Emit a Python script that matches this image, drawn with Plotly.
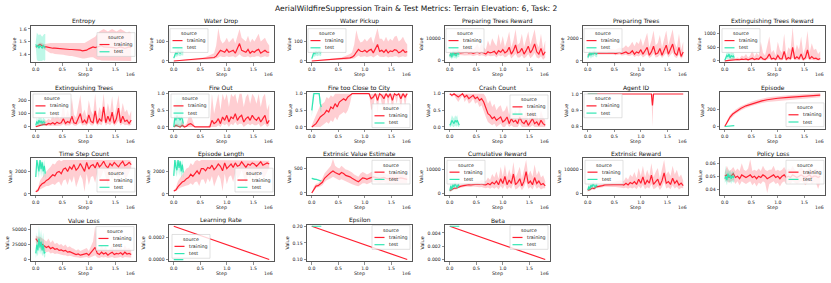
import plotly.graph_objects as go

FIG_W, FIG_H = 831, 283
FONT = "DejaVu Sans"
RED = "#ff1f30"
TEAL = "#33e6b3"
RED_BAND = "rgba(255,31,48,0.22)"
TEAL_BAND = "rgba(51,230,179,0.32)"

# ---------------- data (steps in units of 1e6) ----------------
STEPS = [0.0, 0.04, 0.08, 0.12, 0.16, 0.2, 0.24, 0.28, 0.32, 0.36,
         0.4, 0.44, 0.48, 0.52, 0.56, 0.6, 0.64, 0.68, 0.72, 0.76,
         0.8, 0.84, 0.88, 0.92, 0.96, 1.0, 1.04, 1.08, 1.12, 1.16,
         1.2, 1.24, 1.28, 1.32, 1.36, 1.4, 1.44, 1.48, 1.52, 1.56,
         1.6, 1.64, 1.68, 1.72, 1.76, 1.8]
TEST_STEPS = [0.0, 0.02, 0.04, 0.06, 0.08, 0.1, 0.12, 0.14, 0.16, 0.18]

ENTROPY_MEAN = [1.46, 1.47, 1.48, 1.47, 1.46, 1.46, 1.455, 1.45, 1.45, 1.45,
                1.448, 1.445, 1.445, 1.445, 1.44, 1.44, 1.44, 1.44, 1.44, 1.438,
                1.435, 1.435, 1.43, 1.43, 1.435, 1.445, 1.455, 1.46, 1.455, 1.46,
                1.47, 1.47, 1.46, 1.46, 1.455, 1.46, 1.46, 1.455, 1.45, 1.455,
                1.46, 1.455, 1.45, 1.455, 1.46, 1.455]
ENTROPY_LO = [1.45, 1.455, 1.465, 1.455, 1.44, 1.43, 1.42, 1.41, 1.41, 1.405,
              1.40, 1.40, 1.40, 1.40, 1.395, 1.39, 1.39, 1.39, 1.385, 1.38,
              1.38, 1.375, 1.37, 1.37, 1.37, 1.375, 1.38, 1.38, 1.37, 1.36,
              1.36, 1.355, 1.355, 1.35, 1.35, 1.35, 1.35, 1.35, 1.35, 1.35,
              1.35, 1.35, 1.35, 1.35, 1.35, 1.35]
ENTROPY_HI = [1.47, 1.485, 1.495, 1.49, 1.48, 1.485, 1.49, 1.49, 1.49, 1.49,
              1.49, 1.495, 1.49, 1.49, 1.49, 1.49, 1.49, 1.495, 1.495, 1.49,
              1.49, 1.495, 1.49, 1.49, 1.50, 1.51, 1.52, 1.53, 1.54, 1.56,
              1.58, 1.59, 1.60, 1.59, 1.58, 1.59, 1.60, 1.59, 1.58, 1.59,
              1.60, 1.59, 1.58, 1.57, 1.58, 1.57]
ENTROPY_TEST = [1.48, 1.46, 1.47, 1.45, 1.47, 1.46, 1.45, 1.47, 1.46, 1.45]
ENTROPY_TEST_LO = [1.46, 1.36, 1.35, 1.35, 1.35, 1.35, 1.35, 1.36, 1.35, 1.36]
ENTROPY_TEST_HI = [1.50, 1.57, 1.56, 1.55, 1.56, 1.55, 1.54, 1.55, 1.56, 1.56]

WATER_DROP_MEAN = [0, 1, 2, 2, 3, 3, 4, 5, 5, 6,
                   6, 7, 8, 9, 10, 11, 12, 14, 15, 18,
                   25, 40, 55, 50, 45, 60, 45, 50, 55, 40,
                   65, 90, 55, 50, 45, 60, 40, 50, 45, 55,
                   60, 40, 50, 55, 45, 45]
WATER_DROP_LO = [0, 0, 1, 1, 2, 2, 2, 3, 3, 3,
                 4, 4, 5, 5, 6, 6, 7, 8, 9, 10,
                 12, 18, 25, 20, 20, 25, 20, 22, 25, 18,
                 25, 35, 25, 20, 20, 25, 18, 22, 20, 25,
                 25, 18, 22, 25, 20, 25]
WATER_DROP_HI = [1, 2, 3, 4, 5, 5, 6, 7, 8, 9,
                 10, 12, 14, 16, 18, 20, 25, 30, 35, 40,
                 80, 170, 110, 90, 100, 120, 95, 110, 120, 90,
                 130, 165, 120, 110, 100, 130, 95, 115, 100, 120,
                 140, 100, 110, 120, 95, 80]
WATER_DROP_TEST = [15, 30, 45, 35, 50, 45, 40, 50, 45, 50]
WATER_DROP_TEST_LO = [10, 18, 25, 20, 30, 28, 25, 30, 28, 30]
WATER_DROP_TEST_HI = [20, 45, 60, 55, 70, 62, 60, 70, 65, 70]

WATER_PICKUP_MEAN = [0, 1, 1, 2, 3, 4, 4, 5, 6, 6,
                     7, 7, 8, 9, 10, 12, 13, 14, 16, 20,
                     28, 45, 60, 50, 48, 55, 45, 55, 60, 42,
                     60, 85, 50, 55, 45, 58, 42, 52, 48, 58,
                     55, 42, 48, 58, 45, 48]
WATER_PICKUP_LO = [0, 0, 0, 1, 2, 2, 2, 3, 3, 3,
                   4, 4, 5, 5, 6, 7, 7, 8, 9, 11,
                   13, 20, 28, 20, 22, 24, 20, 24, 26, 18,
                   24, 32, 22, 22, 20, 24, 18, 22, 20, 25,
                   24, 18, 20, 25, 20, 25]
WATER_PICKUP_HI = [1, 2, 3, 4, 5, 6, 7, 8, 8, 9,
                   10, 12, 14, 16, 18, 22, 26, 30, 36, 45,
                   85, 160, 115, 95, 100, 115, 100, 115, 125, 90,
                   125, 170, 115, 115, 100, 125, 100, 115, 105, 125,
                   130, 100, 110, 125, 100, 85]
WATER_PICKUP_TEST = [12, 30, 45, 38, 50, 42, 45, 50, 42, 48]
WATER_PICKUP_TEST_LO = [8, 18, 25, 22, 30, 25, 28, 30, 25, 30]
WATER_PICKUP_TEST_HI = [18, 45, 60, 55, 68, 60, 62, 68, 60, 65]

PREP_REWARD_MEAN = [2500, 3000, 3500, 3200, 3800, 3500, 3600, 3400, 3800, 3500,
                    3700, 3300, 3600, 3900, 3400, 3800, 3500, 3000, 4000, 3500,
                    3800, 4200, 3000, 4500, 3800, 5000, 3500, 4200, 6000, 3000,
                    4500, 7000, 3500, 4000, 5500, 3000, 4500, 6500, 3500, 5000,
                    7500, 4000, 3000, 5500, 2500, 4000]
PREP_REWARD_LO = [1500, 2000, 2500, 2200, 2600, 2500, 2500, 2400, 2600, 2400,
                  2500, 2200, 2400, 2600, 2200, 2500, 2300, 1800, 2500, 2000,
                  2200, 2400, 1500, 2500, 2000, 2500, 1500, 2000, 3000, 1000,
                  2000, 3000, 1500, 1500, 2500, 1000, 1800, 3000, 1200, 2000,
                  3500, 1500, 1000, 2000, 500, 1500]
PREP_REWARD_HI = [3500, 4000, 4500, 4500, 5000, 5000, 5500, 5000, 6000, 5500,
                  6500, 5000, 6000, 7500, 5500, 8000, 6000, 5000, 9000, 6500,
                  10000, 8000, 6500, 12000, 7000, 11000, 6000, 9000, 13000, 6000,
                  9000, 14000, 7000, 8000, 12000, 6000, 10000, 13000, 7000, 11000,
                  14000, 8000, 6000, 12000, 5000, 9000]
PREP_REWARD_TEST = [2000, 3500, 1500, 4000, 2500, 3000, 2000, 3500, 3000, 3200]
PREP_REWARD_TEST_LO = [1000, 1500, 500, 2000, 1000, 1500, 800, 1500, 1500, 1800]
PREP_REWARD_TEST_HI = [3000, 5500, 3000, 6000, 4500, 5000, 4000, 5500, 4500, 4500]

PREP_TREES_MEAN = [500, 600, 650, 700, 650, 700, 680, 720, 700, 680,
                   700, 720, 700, 650, 700, 750, 650, 700, 800, 650,
                   700, 900, 600, 800, 700, 1000, 600, 900, 1200, 500,
                   800, 1300, 600, 700, 1100, 500, 900, 1400, 600, 1000,
                   1500, 700, 500, 1200, 400, 800]
PREP_TREES_LO = [400, 500, 550, 600, 550, 580, 560, 600, 580, 560,
                 580, 600, 570, 500, 550, 580, 480, 500, 550, 450,
                 450, 550, 350, 450, 400, 550, 300, 450, 600, 250,
                 400, 650, 300, 350, 550, 250, 450, 700, 300, 500,
                 750, 350, 250, 600, 200, 400]
PREP_TREES_HI = [600, 700, 800, 900, 850, 900, 900, 950, 950, 950,
                 1000, 1050, 1000, 1000, 1100, 1200, 1100, 1200, 1400, 1200,
                 1400, 1700, 1300, 1700, 1500, 2000, 1300, 1900, 2500, 1200,
                 1800, 2700, 1400, 1600, 2300, 1200, 1900, 2700, 1400, 2100,
                 2800, 1600, 1200, 2400, 1000, 1700]
PREP_TREES_TEST = [300, 600, 800, 500, 700, 600, 800, 700, 600, 700]
PREP_TREES_TEST_LO = [100, 300, 400, 200, 400, 300, 500, 400, 300, 400]
PREP_TREES_TEST_HI = [500, 900, 1100, 800, 1000, 900, 1100, 1000, 900, 1000]

EXT_REWARD_TREES_MEAN = [0, 10, 20, 30, 40, 40, 50, 40, 60, 50,
                         70, 40, 60, 100, 50, 80, 60, 150, 70, 50,
                         120, 250, 70, 100, 50, 200, 80, 70, 350, 50,
                         120, 80, 500, 70, 150, 80, 250, 50, 120, 400,
                         70, 160, 80, 100, 50, 90]
EXT_REWARD_TREES_LO = [0, 0, 5, 10, 15, 15, 20, 15, 20, 15,
                       25, 15, 20, 30, 15, 25, 20, 40, 20, 15,
                       35, 70, 20, 30, 15, 50, 20, 20, 90, 15,
                       35, 20, 110, 20, 40, 20, 70, 15, 35, 100,
                       20, 45, 20, 30, 15, 25]
EXT_REWARD_TREES_HI = [10, 30, 60, 100, 120, 100, 120, 100, 200, 150,
                       250, 120, 200, 400, 150, 300, 200, 700, 300, 200,
                       500, 900, 300, 400, 200, 700, 400, 300, 1000, 200,
                       500, 400, 1250, 300, 600, 400, 900, 250, 500, 1100,
                       300, 650, 400, 450, 250, 350]
EXT_REWARD_TREES_TEST = [20, 100, 200, 150, 250, 100, 200, 150, 180, 120]
EXT_REWARD_TREES_TEST_LO = [0, 30, 80, 50, 100, 30, 80, 50, 60, 40]
EXT_REWARD_TREES_TEST_HI = [50, 200, 350, 300, 400, 250, 350, 300, 320, 250]

EXT_TREES_MEAN = [0, 5, 10, 15, 20, 15, 25, 20, 30, 20,
                  35, 25, 30, 60, 25, 40, 30, 80, 30, 25,
                  60, 100, 30, 50, 25, 90, 40, 30, 120, 25,
                  60, 40, 150, 30, 80, 40, 110, 25, 60, 140,
                  30, 80, 40, 50, 25, 50]
EXT_TREES_LO = [0, 0, 2, 5, 5, 5, 8, 5, 10, 5,
                10, 8, 10, 20, 8, 12, 10, 25, 10, 8,
                20, 30, 10, 15, 8, 30, 12, 10, 40, 8,
                20, 12, 50, 10, 25, 12, 35, 8, 20, 45,
                10, 25, 12, 15, 8, 15]
EXT_TREES_HI = [5, 15, 30, 45, 50, 45, 60, 50, 90, 60,
                110, 60, 80, 180, 70, 130, 80, 220, 90, 70,
                150, 240, 90, 130, 70, 200, 120, 90, 250, 70,
                150, 110, 250, 90, 180, 110, 230, 80, 150, 240,
                90, 180, 110, 130, 80, 120]
EXT_TREES_TEST = [10, 40, 20, 50, 30, 45, 25, 40, 35, 30]
EXT_TREES_TEST_LO = [0, 10, 5, 15, 10, 15, 5, 10, 10, 10]
EXT_TREES_TEST_HI = [25, 70, 45, 80, 60, 75, 50, 70, 60, 55]

FIRE_OUT_MEAN = [0, 0.05, 0.02, 0, 0.05, 0, 0.02, 0.08, 0.1, 0.05,
                 0, 0, 0, 0, 0, 0, 0, 0, 0.2, 0.1,
                 0.15, 0.25, 0.1, 0.3, 0.2, 0.35, 0.15, 0.3, 0.25, 0.4,
                 0.2, 0.3, 0.35, 0.15, 0.25, 0.3, 0.2, 0.35, 0.25, 0.2,
                 0.3, 0.15, 0.25, 0.35, 0.1, 0.2]
FIRE_OUT_LO = [0, 0, 0, 0, 0, 0, 0, 0, 0, 0,
               0, 0, 0, 0, 0, 0, 0, 0, 0, 0,
               0, 0.05, 0, 0.1, 0.05, 0.1, 0, 0.1, 0.05, 0.15,
               0.05, 0.1, 0.1, 0, 0.05, 0.1, 0.05, 0.1, 0.05, 0.05,
               0.1, 0, 0.05, 0.1, 0, 0.05]
FIRE_OUT_HI = [0, 0.1, 0.1, 0.05, 0.2, 0.05, 0.1, 0.3, 0.35, 0.2,
               0, 0, 0, 0, 0, 0, 0, 0.1, 1.0, 0.4,
               0.7, 1.0, 0.5, 1.0, 0.8, 1.0, 0.6, 1.0, 0.9, 1.0,
               0.7, 1.0, 1.0, 0.6, 0.9, 1.0, 0.7, 1.0, 0.9, 0.7,
               1.0, 0.6, 0.9, 1.0, 0.5, 0.7]
FIRE_OUT_TEST = [0, 0.3, 0.2, 0.35, 0.25, 0.3, 0.2, 0.3, 0.25, 0.1]
FIRE_OUT_TEST_LO = [0, 0, 0, 0, 0, 0, 0, 0, 0, 0]
FIRE_OUT_TEST_HI = [0.1, 1.0, 0.6, 1.0, 0.7, 1.0, 0.6, 1.0, 0.7, 0.3]

FIRE_CITY_MEAN = [0, 0.05, 0.1, 0.2, 0.3, 0.35, 0.4, 0.5, 0.45, 0.6,
                  0.55, 0.7, 0.6, 0.75, 0.8, 0.85, 0.8, 0.9, 0.95, 1,
                  1, 1, 1, 1, 1, 1, 1, 1, 0.85, 0.9,
                  1, 0.8, 1, 0.95, 0.85, 1, 0.9, 1, 0.8, 1,
                  0.95, 1, 0.85, 1, 0.9, 1]
FIRE_CITY_LO = [0, 0, 0, 0, 0, 0.05, 0.1, 0.15, 0.1, 0.2,
                0.15, 0.3, 0.2, 0.35, 0.4, 0.45, 0.4, 0.5, 0.7, 1,
                1, 1, 1, 1, 1, 1, 1, 1, 0.5, 0.6,
                1, 0.4, 1, 0.7, 0.5, 1, 0.6, 1, 0.4, 1,
                0.7, 1, 0.5, 1, 0.6, 1]
FIRE_CITY_HI = [0.05, 0.2, 0.35, 0.5, 0.65, 0.7, 0.75, 0.9, 0.85, 0.95,
                0.9, 1, 1, 1, 1, 1, 1, 1, 1, 1,
                1, 1, 1, 1, 1, 1, 1, 1, 1, 1,
                1, 1, 1, 1, 1, 1, 1, 1, 1, 1,
                1, 1, 1, 1, 1, 1]
FIRE_CITY_TEST = [0.5, 0.8, 1, 1, 1, 1, 1, 1, 0.7, 0.6]
FIRE_CITY_TEST_LO = [0.3, 0.6, 1, 1, 1, 1, 1, 0.9, 0.5, 0.4]
FIRE_CITY_TEST_HI = [0.7, 1, 1, 1, 1, 1, 1, 1, 0.9, 0.8]

CRASH_MEAN = [1, 0.95, 1, 0.95, 0.9, 0.95, 1, 0.9, 0.95, 0.85,
              0.9, 0.95, 0.85, 0.9, 0.8, 0.85, 0.75, 0.6, 0.4, 0.35,
              0.25, 0.3, 0.2, 0.25, 0.3, 0.15, 0.2, 0.3, 0.1, 0.25,
              0.15, 0.2, 0.1, 0.3, 0.15, 0.1, 0.2, 0.05, 0.15, 0.25,
              0.1, 0.15, 0.05, 0.2, 0.1, 0.05]
CRASH_LO = [1, 0.9, 0.95, 0.85, 0.75, 0.85, 0.95, 0.75, 0.85, 0.7,
            0.75, 0.85, 0.7, 0.75, 0.6, 0.65, 0.5, 0.3, 0.15, 0.1,
            0.05, 0.1, 0, 0.05, 0.1, 0, 0, 0.1, 0, 0.05,
            0, 0, 0, 0.1, 0, 0, 0, 0, 0, 0.05,
            0, 0, 0, 0, 0, 0]
CRASH_HI = [1, 1, 1, 1, 1, 1, 1, 1, 1, 1,
            1, 1, 1, 1, 1, 1, 1, 0.9, 0.7, 0.8,
            0.6, 0.7, 0.5, 0.6, 0.65, 0.45, 0.5, 0.65, 0.35, 0.6,
            0.4, 0.5, 0.35, 0.65, 0.4, 0.3, 0.5, 0.2, 0.4, 0.55,
            0.3, 0.4, 0.2, 0.5, 0.3, 0.2]
CRASH_TEST = [0.05, 0.1, 0.2, 0.15, 0.1, 0.2, 0.15, 0.2, 0.1, 0.05]
CRASH_TEST_LO = [0, 0, 0.05, 0, 0, 0.05, 0, 0.05, 0, 0]
CRASH_TEST_HI = [0.1, 0.2, 0.35, 0.3, 0.25, 0.35, 0.3, 0.35, 0.2, 0.1]

AGENT_STEPS = [0.0, 1.2, 1.22, 1.24, 1.8]
AGENT_MEAN = [1.0, 1.0, 0.93, 1.0, 1.0]
AGENT_LO = [1.0, 1.0, 0.80, 1.0, 1.0]
AGENT_HI = [1.0, 1.0, 1.0, 1.0, 1.0]
AGENT_TEST_STEPS = [0.0, 0.18]
AGENT_TEST = [1.0, 1.0]

EPISODE_STEPS = [0.0, 0.05, 0.1, 0.15, 0.2, 0.3, 0.4, 0.5, 0.6, 0.7, 0.8, 0.9, 1.0, 1.2, 1.4, 1.6, 1.8]
EPISODE_MEAN = [0, 60, 110, 145, 170, 210, 240, 262, 282, 298, 310, 320, 328, 338, 346, 355, 364]
EPISODE_LO = [0, 40, 85, 120, 145, 185, 215, 237, 257, 273, 285, 295, 303, 313, 321, 330, 340]
EPISODE_HI = [0, 80, 135, 170, 195, 235, 265, 287, 307, 323, 335, 345, 353, 363, 371, 380, 388]
EPISODE_TEST = [0, 2, 4, 6, 7, 8, 9, 10, 10, 10]

TIMESTEP_MEAN = [200, 300, 700, 900, 1000, 1200, 1300, 1500, 1700, 1600,
                 1900, 2000, 1800, 2200, 2300, 2000, 2400, 2200, 2600, 2100,
                 2300, 2700, 2400, 2000, 2800, 2200, 2500, 2600, 2300, 2800,
                 2400, 2600, 2900, 2500, 2300, 2700, 2500, 2800, 2600, 2400,
                 2700, 2900, 2500, 2600, 2800, 2600]
TIMESTEP_LO = [150, 200, 400, 500, 600, 700, 700, 800, 900, 800,
               1000, 1100, 700, 1200, 1300, 800, 1400, 1000, 1600, 600,
               1200, 1700, 1300, 200, 1800, 800, 1500, 1600, 1000, 1900,
               1300, 1600, 2100, 1400, 800, 1700, 1300, 1900, 1600, 1200,
               1700, 2100, 1400, 1500, 1900, 2300]
TIMESTEP_HI = [300, 500, 1200, 1500, 1700, 2000, 2200, 2400, 2700, 2600,
               2900, 3000, 2900, 3000, 3000, 3000, 3000, 3000, 3000, 3000,
               3000, 3000, 3000, 3000, 3000, 3000, 3000, 3000, 3000, 3000,
               3000, 3000, 3000, 3000, 3000, 3000, 3000, 3000, 3000, 3000,
               3000, 3000, 3000, 3000, 3000, 2900]
TIMESTEP_TEST = [1500, 3000, 2500, 2000, 3000, 2200, 2800, 2000, 2500, 1800]
TIMESTEP_TEST_LO = [1200, 2500, 1800, 1400, 2500, 1500, 2200, 1400, 1800, 1300]
TIMESTEP_TEST_HI = [2000, 3000, 3000, 2700, 3000, 2800, 3000, 2600, 3000, 2300]

EPLEN_MEAN = [250, 350, 650, 850, 1050, 1150, 1350, 1450, 1750, 1550,
              1850, 2050, 1750, 2250, 2250, 2050, 2350, 2250, 2550, 2150,
              2350, 2650, 2450, 2050, 2750, 2250, 2450, 2650, 2350, 2750,
              2450, 2550, 2850, 2550, 2350, 2650, 2550, 2750, 2650, 2450,
              2650, 2850, 2550, 2650, 2750, 2650]
EPLEN_LO = [200, 250, 400, 550, 650, 700, 750, 800, 950, 800,
            1050, 1100, 700, 1250, 1300, 850, 1400, 1050, 1600, 650,
            1250, 1700, 1350, 250, 1800, 850, 1500, 1650, 1050, 1900,
            1350, 1600, 2100, 1450, 850, 1700, 1350, 1900, 1650, 1250,
            1700, 2100, 1450, 1550, 1900, 2300]
EPLEN_HI = [350, 550, 1150, 1450, 1750, 1950, 2250, 2350, 2750, 2550,
            2900, 3000, 2900, 3000, 3000, 3000, 3000, 3000, 3000, 3000,
            3000, 3000, 3000, 3000, 3000, 3000, 3000, 3000, 3000, 3000,
            3000, 3000, 3000, 3000, 3000, 3000, 3000, 3000, 3000, 3000,
            3000, 3000, 3000, 3000, 3000, 2950]
EPLEN_TEST = [1600, 3000, 2400, 2100, 3000, 2300, 2900, 2000, 2600, 1900]
EPLEN_TEST_LO = [1300, 2500, 1800, 1500, 2500, 1600, 2300, 1400, 1900, 1400]
EPLEN_TEST_HI = [2000, 3000, 3000, 2800, 3000, 2900, 3000, 2700, 3000, 2400]

VALUE_EST_MEAN = [0, 80, 140, 150, 180, 220, 300, 350, 380, 420,
                  450, 420, 400, 380, 420, 400, 360, 350, 330, 300,
                  270, 250, 230, 280, 310, 300, 280, 300, 320, 330,
                  320, 310, 300, 310, 320, 300, 290, 300, 310, 300,
                  290, 300, 310, 300, 290, 280]
VALUE_EST_LO = [0, 40, 100, 110, 130, 160, 220, 260, 280, 300,
                330, 300, 280, 260, 280, 260, 230, 220, 200, 180,
                160, 150, 140, 170, 200, 200, 180, 200, 220, 230,
                220, 210, 200, 210, 220, 200, 190, 200, 210, 200,
                190, 200, 210, 210, 200, 200]
VALUE_EST_HI = [0, 130, 190, 200, 240, 300, 400, 450, 500, 560,
                700, 560, 520, 500, 560, 520, 480, 470, 450, 420,
                380, 360, 330, 400, 430, 410, 380, 400, 430, 440,
                420, 410, 390, 400, 420, 390, 380, 390, 400, 390,
                380, 390, 400, 390, 380, 360]
VALUE_EST_TEST = [300, 290, 290, 280, 280, 270, 260, 260, 250, 250]
VALUE_EST_TEST_LO = [285, 275, 275, 265, 265, 255, 245, 245, 235, 235]
VALUE_EST_TEST_HI = [315, 305, 305, 295, 295, 285, 275, 275, 265, 265]

CUM_REWARD_MEAN = [1000, 1500, 2000, 2000, 2500, 2800, 3000, 3200, 3300, 3500,
                   3400, 3600, 3500, 3700, 3600, 3800, 3500, 3400, 4000, 3500,
                   4500, 3800, 5000, 3500, 6000, 4000, 7000, 3500, 5500, 4000,
                   8000, 3500, 4500, 6000, 3000, 5000, 9000, 4000, 5000, 3500,
                   6500, 4000, 5000, 3500, 4000, 3000]
CUM_REWARD_LO = [500, 1000, 1500, 1500, 2000, 2200, 2400, 2500, 2600, 2700,
                 2500, 2700, 2500, 2600, 2400, 2500, 2200, 2000, 2300, 1800,
                 2400, 1800, 2500, 1500, 3000, 1800, 3500, 1500, 2500, 1800,
                 4000, 1500, 2000, 3000, 1200, 2500, 5000, 1800, 2500, 1500,
                 3500, 1800, 2500, 1500, 2000, 2000]
CUM_REWARD_HI = [1500, 2000, 2500, 2500, 3000, 3400, 3600, 3900, 4000, 4300,
                 4300, 4600, 4600, 5000, 5000, 5500, 5200, 5000, 6500, 5500,
                 8000, 6500, 9000, 6000, 11000, 7000, 12000, 6500, 10000, 7000,
                 13000, 6500, 8500, 11000, 6000, 9500, 14000, 7500, 9500, 7000,
                 12000, 7500, 9500, 6500, 7500, 5000]
CUM_REWARD_TEST = [1000, 3000, 1500, 3500, 2500, 4000, 3000, 2500, 3500, 3000]
CUM_REWARD_TEST_LO = [0, 1500, 500, 2000, 1500, 2500, 2000, 1500, 2500, 2000]
CUM_REWARD_TEST_HI = [2000, 4500, 3000, 5000, 3500, 5500, 4000, 3500, 4500, 4000]

EXT_REWARD_MEAN = [1200, 1400, 2100, 1900, 2600, 2700, 3100, 3100, 3400, 3400,
                   3500, 3500, 3600, 3600, 3700, 3700, 3600, 3300, 4100, 3400,
                   4400, 3900, 4800, 3600, 5800, 4100, 6800, 3600, 5300, 4200,
                   7500, 3600, 4700, 5800, 3200, 5200, 8500, 4100, 4800, 3600,
                   6200, 4100, 5200, 3400, 4200, 3100]
EXT_REWARD_LO = [600, 900, 1500, 1400, 2000, 2100, 2400, 2400, 2600, 2600,
                 2500, 2600, 2500, 2500, 2400, 2400, 2200, 2000, 2300, 1800,
                 2300, 1900, 2400, 1600, 2900, 1900, 3400, 1600, 2400, 1900,
                 3800, 1600, 2100, 2900, 1300, 2500, 4800, 1900, 2400, 1600,
                 3300, 1900, 2600, 1500, 2100, 2000]
EXT_REWARD_HI = [1700, 1900, 2600, 2500, 3100, 3300, 3700, 3800, 4100, 4200,
                 4400, 4500, 4700, 4900, 5100, 5300, 5300, 5100, 6600, 5600,
                 7800, 6700, 8800, 6200, 10500, 7200, 11500, 6600, 9800, 7200,
                 12500, 6600, 8800, 10500, 6200, 9800, 14000, 7800, 9200, 7200,
                 11500, 7800, 9800, 6600, 7800, 5200]
EXT_REWARD_TEST = [1200, 2800, 1600, 3300, 2600, 3800, 3100, 2600, 3300, 3100]
EXT_REWARD_TEST_LO = [200, 1500, 600, 2000, 1500, 2500, 2000, 1500, 2300, 2000]
EXT_REWARD_TEST_HI = [2200, 4200, 3000, 4800, 3600, 5200, 4200, 3600, 4400, 4200]

POLICY_LOSS_MEAN = [0.05, 0.051, 0.049, 0.05, 0.052, 0.049, 0.05, 0.048, 0.051, 0.05,
                    0.049, 0.05, 0.051, 0.049, 0.05, 0.048, 0.05, 0.049, 0.051, 0.05,
                    0.048, 0.049, 0.05, 0.051, 0.049, 0.05, 0.048, 0.05, 0.051, 0.049,
                    0.05, 0.049, 0.051, 0.05, 0.049, 0.05, 0.051, 0.05, 0.049, 0.05,
                    0.051, 0.049, 0.05, 0.05, 0.049, 0.05]
POLICY_LOSS_LO = [0.047, 0.046, 0.045, 0.046, 0.047, 0.044, 0.046, 0.043, 0.046, 0.045,
                  0.044, 0.045, 0.046, 0.043, 0.045, 0.042, 0.045, 0.044, 0.046, 0.045,
                  0.037, 0.044, 0.045, 0.046, 0.044, 0.045, 0.042, 0.045, 0.046, 0.044,
                  0.045, 0.044, 0.046, 0.045, 0.044, 0.045, 0.046, 0.045, 0.043, 0.045,
                  0.046, 0.044, 0.045, 0.045, 0.040, 0.045]
POLICY_LOSS_HI = [0.053, 0.058, 0.054, 0.055, 0.057, 0.054, 0.056, 0.054, 0.060, 0.055,
                  0.054, 0.056, 0.063, 0.054, 0.055, 0.054, 0.056, 0.054, 0.058, 0.055,
                  0.054, 0.055, 0.055, 0.058, 0.054, 0.055, 0.054, 0.055, 0.057, 0.054,
                  0.056, 0.055, 0.058, 0.055, 0.054, 0.055, 0.057, 0.055, 0.054, 0.055,
                  0.058, 0.054, 0.055, 0.056, 0.054, 0.055]
POLICY_LOSS_TEST = [0.048, 0.05, 0.047, 0.052, 0.049, 0.051, 0.048, 0.05, 0.049, 0.05]
POLICY_LOSS_TEST_LO = [0.045, 0.046, 0.043, 0.047, 0.045, 0.046, 0.044, 0.046, 0.045, 0.046]
POLICY_LOSS_TEST_HI = [0.051, 0.058, 0.052, 0.056, 0.053, 0.055, 0.052, 0.054, 0.053, 0.054]

VALUE_LOSS_MEAN = [35000, 30000, 28000, 25000, 22000, 20000, 22000, 18000, 20000, 17000,
                   18000, 15000, 16000, 14000, 15000, 12000, 13000, 11000, 10000, 8000,
                   9000, 7000, 8000, 9000, 10000, 7000, 12000, 15000, 20000, 10000,
                   8000, 12000, 9000, 11000, 7000, 10000, 12000, 8000, 10000, 9000,
                   11000, 8000, 12000, 9000, 10000, 8000]
VALUE_LOSS_LO = [28000, 22000, 18000, 15000, 13000, 12000, 13000, 10000, 11000, 9000,
                 10000, 8000, 8000, 7000, 7000, 5000, 6000, 5000, 4000, 3000,
                 3000, 2000, 3000, 3000, 4000, 2000, 4000, 5000, 7000, 3000,
                 2000, 4000, 3000, 4000, 2000, 3000, 4000, 2000, 3000, 3000,
                 4000, 2000, 4000, 3000, 3000, 3000]
VALUE_LOSS_HI = [40000, 38000, 38000, 36000, 33000, 30000, 35000, 28000, 32000, 26000,
                 28000, 24000, 26000, 22000, 25000, 20000, 22000, 19000, 18000, 15000,
                 17000, 14000, 16000, 17000, 19000, 14000, 22000, 30000, 56000, 20000,
                 16000, 24000, 18000, 22000, 14000, 20000, 24000, 16000, 20000, 18000,
                 22000, 16000, 24000, 18000, 20000, 14000]
VALUE_LOSS_TEST = [10000, 25000, 15000, 35000, 20000, 30000, 15000, 25000, 10000, 12000]
VALUE_LOSS_TEST_LO = [2000, 10000, 5000, 20000, 8000, 15000, 5000, 10000, 2000, 5000]
VALUE_LOSS_TEST_HI = [20000, 45000, 30000, 56000, 35000, 50000, 30000, 45000, 20000, 25000]

LINEAR_STEPS = [0.0, 1.8]
LINEAR_TEST_STEPS = [0.0, 0.18]
LR_TRAIN = [0.0003, 0.0]
LR_TEST = [0.0, 0.0]
EPSILON_TRAIN = [0.2, 0.1]
EPSILON_TEST = [0.2, 0.2]
BETA_TRAIN = [0.005, 0.0]
BETA_TEST = [0.005, 0.005]

X_TICKS = [0.0, 0.5, 1.0, 1.5]
X_TICK_TEXT = ["0.0", "0.5", "1.0", "1.5"]
LEGEND_LABELS = ["training", "test"]

# ---------------- panels ----------------
P = []
def panel(title, x, m, lo, hi, tx, tm, tlo, thi, yr, yt, ytt, leg):
    P.append(dict(title=title, x=x, m=m, lo=lo, hi=hi, tx=tx, tm=tm, tlo=tlo, thi=thi,
                  yr=yr, yt=yt, ytt=ytt, leg=leg))

panel("Entropy", STEPS, ENTROPY_MEAN, ENTROPY_LO, ENTROPY_HI, TEST_STEPS, ENTROPY_TEST, ENTROPY_TEST_LO, ENTROPY_TEST_HI,
      [1.34, 1.625], [1.4, 1.5, 1.6], ["1.4", "1.5", "1.6"], (97, 32))
panel("Water Drop", STEPS, WATER_DROP_MEAN, WATER_DROP_LO, WATER_DROP_HI, TEST_STEPS, WATER_DROP_TEST, WATER_DROP_TEST_LO, WATER_DROP_TEST_HI,
      [-7, 182], [0, 100], ["0", "100"], (170, 28))
panel("Water Pickup", STEPS, WATER_PICKUP_MEAN, WATER_PICKUP_LO, WATER_PICKUP_HI, TEST_STEPS, WATER_PICKUP_TEST, WATER_PICKUP_TEST_LO, WATER_PICKUP_TEST_HI,
      [-7, 182], [0, 100], ["0", "100"], (308, 28))
panel("Preparing Trees Reward", STEPS, PREP_REWARD_MEAN, PREP_REWARD_LO, PREP_REWARD_HI, TEST_STEPS, PREP_REWARD_TEST, PREP_REWARD_TEST_LO, PREP_REWARD_TEST_HI,
      [-650, 15500], [0, 10000], ["0", "10000"], (446, 28))
panel("Preparing Trees", STEPS, PREP_TREES_MEAN, PREP_TREES_LO, PREP_TREES_HI, TEST_STEPS, PREP_TREES_TEST, PREP_TREES_TEST_LO, PREP_TREES_TEST_HI,
      [-125, 3120], [0, 2000], ["0", "2000"], (584, 28))
panel("Extinguishing Trees Reward", STEPS, EXT_REWARD_TREES_MEAN, EXT_REWARD_TREES_LO, EXT_REWARD_TREES_HI, TEST_STEPS, EXT_REWARD_TREES_TEST, EXT_REWARD_TREES_TEST_LO, EXT_REWARD_TREES_TEST_HI,
      [-55, 1295], [0, 500, 1000], ["0", "500", "1000"], (722, 28))
panel("Extinguishing Trees", STEPS, EXT_TREES_MEAN, EXT_TREES_LO, EXT_TREES_HI, TEST_STEPS, EXT_TREES_TEST, EXT_TREES_TEST_LO, EXT_TREES_TEST_HI,
      [-14, 262], [0, 100, 200], ["0", "100", "200"], (33, 94))
panel("Fire Out", STEPS, FIRE_OUT_MEAN, FIRE_OUT_LO, FIRE_OUT_HI, TEST_STEPS, FIRE_OUT_TEST, FIRE_OUT_TEST_LO, FIRE_OUT_TEST_HI,
      [-0.05, 1.05], [0, 0.5, 1.0], ["0.0", "0.5", "1.0"], (171, 94))
panel("Fire too Close to City", STEPS, FIRE_CITY_MEAN, FIRE_CITY_LO, FIRE_CITY_HI, TEST_STEPS, FIRE_CITY_TEST, FIRE_CITY_TEST_LO, FIRE_CITY_TEST_HI,
      [-0.05, 1.05], [0, 0.5, 1.0], ["0.0", "0.5", "1.0"], (372, 104))
panel("Crash Count", STEPS, CRASH_MEAN, CRASH_LO, CRASH_HI, TEST_STEPS, CRASH_TEST, CRASH_TEST_LO, CRASH_TEST_HI,
      [-0.05, 1.05], [0, 0.5, 1.0], ["0.0", "0.5", "1.0"], (510, 95))
panel("Agent ID", AGENT_STEPS, AGENT_MEAN, AGENT_LO, AGENT_HI, AGENT_TEST_STEPS, AGENT_TEST, None, None,
      [0.788, 1.012], [0.8, 0.9, 1.0], ["0.8", "0.9", "1.0"], (584, 94))
panel("Episode", EPISODE_STEPS, EPISODE_MEAN, EPISODE_LO, EPISODE_HI, TEST_STEPS, EPISODE_TEST, None, None,
      [-25, 400], [0, 200], ["0", "200"], (786, 103))
panel("Time Step Count", STEPS, TIMESTEP_MEAN, TIMESTEP_LO, TIMESTEP_HI, TEST_STEPS, TIMESTEP_TEST, TIMESTEP_TEST_LO, TIMESTEP_TEST_HI,
      [-90, 3160], [0, 2000], ["0", "2000"], (97, 169))
panel("Episode Length", STEPS, EPLEN_MEAN, EPLEN_LO, EPLEN_HI, TEST_STEPS, EPLEN_TEST, EPLEN_TEST_LO, EPLEN_TEST_HI,
      [-90, 3160], [0, 2000], ["0", "2000"], (235, 169))
panel("Extrinsic Value Estimate", STEPS, VALUE_EST_MEAN, VALUE_EST_LO, VALUE_EST_HI, TEST_STEPS, VALUE_EST_TEST, VALUE_EST_TEST_LO, VALUE_EST_TEST_HI,
      [-40, 710], [0, 500], ["0", "500"], (372, 161))
panel("Cumulative Reward", STEPS, CUM_REWARD_MEAN, CUM_REWARD_LO, CUM_REWARD_HI, TEST_STEPS, CUM_REWARD_TEST, CUM_REWARD_TEST_LO, CUM_REWARD_TEST_HI,
      [-800, 14600], [0, 10000], ["0", "10000"], (447, 161))
panel("Extrinsic Reward", STEPS, EXT_REWARD_MEAN, EXT_REWARD_LO, EXT_REWARD_HI, TEST_STEPS, EXT_REWARD_TEST, EXT_REWARD_TEST_LO, EXT_REWARD_TEST_HI,
      [-800, 14600], [0, 10000], ["0", "10000"], (585, 161))
panel("Policy Loss", STEPS, POLICY_LOSS_MEAN, POLICY_LOSS_LO, POLICY_LOSS_HI, TEST_STEPS, POLICY_LOSS_TEST, POLICY_LOSS_TEST_LO, POLICY_LOSS_TEST_HI,
      [0.0355, 0.0638], [0.04, 0.05, 0.06], ["0.04", "0.05", "0.06"], (786, 161))
panel("Value Loss", STEPS, VALUE_LOSS_MEAN, VALUE_LOSS_LO, VALUE_LOSS_HI, TEST_STEPS, VALUE_LOSS_TEST, VALUE_LOSS_TEST_LO, VALUE_LOSS_TEST_HI,
      [-3200, 58500], [0, 25000, 50000], ["0", "25000", "50000"], (96, 228))
panel("Learning Rate", LINEAR_STEPS, LR_TRAIN, None, None, LINEAR_TEST_STEPS, LR_TEST, None, None,
      [-0.000015, 0.000315], [0.0, 0.0002], ["0.0000", "0.0002"], (172, 236))
panel("Epsilon", LINEAR_STEPS, EPSILON_TRAIN, None, None, LINEAR_TEST_STEPS, EPSILON_TEST, None, None,
      [0.095, 0.205], [0.10, 0.15, 0.20], ["0.10", "0.15", "0.20"], (372, 227))
panel("Beta", LINEAR_STEPS, BETA_TRAIN, None, None, LINEAR_TEST_STEPS, BETA_TEST, None, None,
      [-0.00025, 0.00525], [0.0, 0.002, 0.004], ["0.000", "0.002", "0.004"], (510, 227))

# ---------------- layout geometry (pixels) ----------------
COL_LEFT = [31, 169, 307, 445, 583, 720]
ROW_TOP = [25, 92, 159, 226]
PW, PH = 105, 37

def fx(px):
    return px / FIG_W

def fy(py):
    return 1 - py / FIG_H

fig = go.Figure()
layout = dict(width=FIG_W, height=FIG_H, margin=dict(l=0, r=0, t=0, b=0),
              paper_bgcolor="white", plot_bgcolor="white", showlegend=False,
              font=dict(family=FONT, color="#222"), hovermode=False)
annotations = []
shapes = []

AX_COLOR = "#444"

for i, p in enumerate(P):
    r, c = divmod(i, 6)
    L, T = COL_LEFT[c], ROW_TOP[r]
    n = i + 1
    xa = "x" if n == 1 else f"x{n}"
    ya = "y" if n == 1 else f"y{n}"
    xkey = "xaxis" if n == 1 else f"xaxis{n}"
    ykey = "yaxis" if n == 1 else f"yaxis{n}"

    common = dict(showline=True, linecolor=AX_COLOR, linewidth=0.9, mirror=True,
                  ticks="outside", ticklen=2.5, tickwidth=0.6, tickcolor=AX_COLOR,
                  showgrid=False, zeroline=False, fixedrange=True,
                  tickfont=dict(size=4.6, family=FONT, color="#222"))
    layout[xkey] = dict(domain=[fx(L), fx(L + PW)], anchor=ya, range=[-0.09, 1.89],
                        tickvals=X_TICKS, ticktext=X_TICK_TEXT,
                        title=dict(text="Step", font=dict(size=4.8, family=FONT), standoff=1), **common)
    layout[ykey] = dict(domain=[fy(T + PH), fy(T)], anchor=xa, range=p["yr"],
                        tickvals=p["yt"], ticktext=p["ytt"],
                        title=dict(text="Value", font=dict(size=4.8, family=FONT), standoff=2), **common)

    # training band + line
    if p["lo"] is not None:
        fig.add_trace(go.Scatter(x=list(p["x"]) + list(p["x"])[::-1], y=list(p["hi"]) + list(p["lo"])[::-1],
                                 fill="toself", fillcolor=RED_BAND, line=dict(width=0), mode="lines",
                                 hoverinfo="skip", xaxis=xa, yaxis=ya))
    fig.add_trace(go.Scatter(x=p["x"], y=p["m"], mode="lines", line=dict(color=RED, width=1.2),
                             xaxis=xa, yaxis=ya, name=LEGEND_LABELS[0]))
    # test band + line
    if p["tlo"] is not None:
        fig.add_trace(go.Scatter(x=list(p["tx"]) + list(p["tx"])[::-1], y=list(p["thi"]) + list(p["tlo"])[::-1],
                                 fill="toself", fillcolor=TEAL_BAND, line=dict(width=0), mode="lines",
                                 hoverinfo="skip", xaxis=xa, yaxis=ya))
    fig.add_trace(go.Scatter(x=p["tx"], y=p["tm"], mode="lines", line=dict(color=TEAL, width=1.2),
                             xaxis=xa, yaxis=ya, name=LEGEND_LABELS[1]))

    # subplot title
    annotations.append(dict(text=p["title"], x=fx(L + PW / 2), y=fy(T - 4.5), xref="paper", yref="paper",
                            showarrow=False, xanchor="center", yanchor="middle",
                            font=dict(size=6.0, family=FONT, color="#111")))
    # 1e6 offset label
    annotations.append(dict(text="1e6", x=fx(L + PW + 1), y=fy(T + PH + 12.5), xref="paper", yref="paper",
                            showarrow=False, xanchor="right", yanchor="middle",
                            font=dict(size=4.6, family=FONT, color="#222")))

    # legend
    lx, ly = p["leg"]
    lw, lh = 38, 24
    shapes.append(dict(type="rect", xref="paper", yref="paper", x0=fx(lx), x1=fx(lx + lw),
                       y0=fy(ly + lh), y1=fy(ly), fillcolor="rgba(255,255,255,0.8)",
                       line=dict(color="#cccccc", width=0.6), layer="above"))
    annotations.append(dict(text="source", x=fx(lx + lw / 2), y=fy(ly + 5), xref="paper", yref="paper",
                            showarrow=False, xanchor="center", yanchor="middle",
                            font=dict(size=4.8, family=FONT, color="#222")))
    for k, (lab, col) in enumerate(zip(LEGEND_LABELS, [RED, TEAL])):
        yy = ly + 12 + 7.3 * k
        shapes.append(dict(type="line", xref="paper", yref="paper", x0=fx(lx + 2.5), x1=fx(lx + 12.5),
                           y0=fy(yy), y1=fy(yy), line=dict(color=col, width=1.2), layer="above"))
        annotations.append(dict(text=lab, x=fx(lx + 15), y=fy(yy), xref="paper", yref="paper",
                                showarrow=False, xanchor="left", yanchor="middle",
                                font=dict(size=4.8, family=FONT, color="#222")))

annotations.append(dict(text="AerialWildfireSuppression Train & Test Metrics: Terrain Elevation: 6, Task: 2",
                        x=fx(416.7), y=fy(7.3), xref="paper", yref="paper", showarrow=False,
                        xanchor="center", yanchor="middle", font=dict(size=7.6, family=FONT, color="#111")))

layout["annotations"] = annotations
layout["shapes"] = shapes
fig.update_layout(**layout)
fig.write_html("out.html", config={"displayModeBar": False, "staticPlot": True},
               post_script="document.body.style.margin='0';document.body.style.padding='0';")
